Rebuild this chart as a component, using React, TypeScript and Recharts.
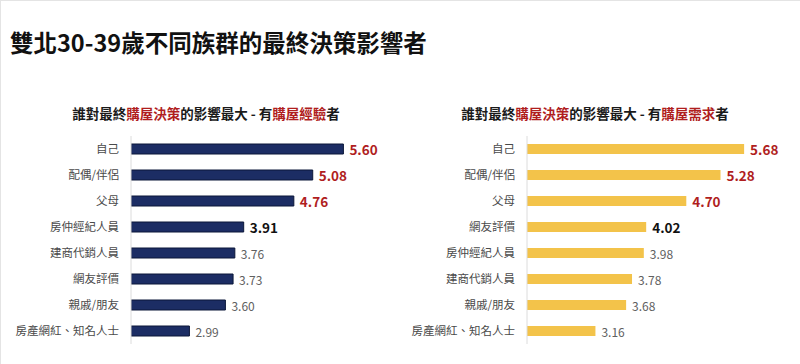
import React from "react";
import { Bar, BarChart, LabelList, XAxis, YAxis } from "recharts";

const FONT = '"Noto Sans CJK TC", "Noto Sans", sans-serif';
const RED = "#b01e1e";

const expCategories = ["自己", "配偶/伴侶", "父母", "房仲經紀人員", "建商代銷人員", "網友評價", "親戚/朋友", "房產網紅、知名人士"];
const expValues = [5.6, 5.08, 4.76, 3.91, 3.76, 3.73, 3.6, 2.99];

const needCategories = ["自己", "配偶/伴侶", "父母", "網友評價", "房仲經紀人員", "建商代銷人員", "親戚/朋友", "房產網紅、知名人士"];
const needValues = [5.68, 5.28, 4.7, 4.02, 3.98, 3.78, 3.68, 3.16];

const axisDomain: [number, number] = [2, 6];

function makeRows(cats: string[], vals: number[]) {
  return cats.map((name, i) => ({ name, value: vals[i] }));
}

function valueLabel(vals: number[]) {
  return (props: any) => {
    const { x, y, width, height, value } = props;
    const rank = vals.indexOf(value);
    let fill = "#606060";
    let weight = 400;
    let size = 12;
    if (rank < 3) {
      fill = RED;
      weight = 700;
      size = 13.5;
    } else if (rank === 3) {
      fill = "#111";
      weight = 700;
      size = 13.5;
    }
    return (
      <text
        x={Number(x) + Number(width) + 6}
        y={Number(y) + Number(height) / 2}
        dominantBaseline="central"
        fill={fill}
        fontWeight={weight}
        fontSize={size}
        fontFamily={FONT}
      >
        {Number(value).toFixed(2)}
      </text>
    );
  };
}

function Subtitle({ center, parts }: { center: number; parts: [string, boolean][] }) {
  return (
    <div
      style={{
        position: "absolute",
        left: center - 200,
        width: 400,
        top: 102,
        textAlign: "center",
        fontSize: 13.5,
        fontWeight: 700,
        color: "#1a1a1a",
        whiteSpace: "nowrap",
        lineHeight: "20px",
      }}
    >
      {parts.map(([t, red], i) => (
        <span key={i} style={{ color: red ? RED : undefined }}>
          {t}
        </span>
      ))}
    </div>
  );
}

function Panel({
  left,
  axisWidth,
  cats,
  vals,
  fill,
  stroke,
}: {
  left: number;
  axisWidth: number;
  cats: string[];
  vals: number[];
  fill: string;
  stroke?: string;
}) {
  const rows = makeRows(cats, vals);
  return (
    <div style={{ position: "absolute", left, top: 125 }}>
      <BarChart
        width={400}
        height={230}
        data={rows}
        layout="vertical"
        margin={{ top: 10, right: 400 - axisWidth - 236, bottom: 12, left: 0 }}
      >
        <XAxis type="number" domain={axisDomain} hide allowDataOverflow />
        <YAxis
          type="category"
          dataKey="name"
          width={axisWidth}
          axisLine={{ stroke: "#dcdcdc" }}
          tickLine={false}
          tickMargin={6}
          tick={{ fill: "#4a4a4a", fontSize: 11.5, fontFamily: FONT }}
          interval={0}
        />
        <Bar
          dataKey="value"
          fill={fill}
          stroke={stroke}
          strokeWidth={stroke ? 1 : 0}
          barSize={10}
          isAnimationActive={false}
        >
          <LabelList dataKey="value" content={valueLabel(vals)} />
        </Bar>
      </BarChart>
    </div>
  );
}

export default function App() {
  return (
    <div
      style={{
        position: "absolute",
        left: 0,
        top: 0,
        width: 800,
        height: 364,
        background: "#fff",
        fontFamily: FONT,
        overflow: "hidden",
        borderTop: "1px solid #e4e4e4",
        borderLeft: "1px solid #e4e4e4",
        boxSizing: "border-box",
      }}
    >
      <div
        style={{
          position: "absolute",
          left: 9,
          top: 26,
          fontSize: 23.5,
          fontWeight: 700,
          color: "#111",
          lineHeight: "30px",
          whiteSpace: "nowrap",
        }}
      >
        雙北30-39歲不同族群的最終決策影響者
      </div>
      <Subtitle
        center={205}
        parts={[
          ["誰對最終", false],
          ["購屋決策", true],
          ["的影響最大 - 有", false],
          ["購屋經驗", true],
          ["者", false],
        ]}
      />
      <Subtitle
        center={594}
        parts={[
          ["誰對最終", false],
          ["購屋決策", true],
          ["的影響最大 - 有", false],
          ["購屋需求", true],
          ["者", false],
        ]}
      />
      <Panel left={-1} axisWidth={131} cats={expCategories} vals={expValues} fill="#1c2d64" stroke="#0b1738" />
      <Panel left={399} axisWidth={127} cats={needCategories} vals={needValues} fill="#f3c34a" />
    </div>
  );
}
